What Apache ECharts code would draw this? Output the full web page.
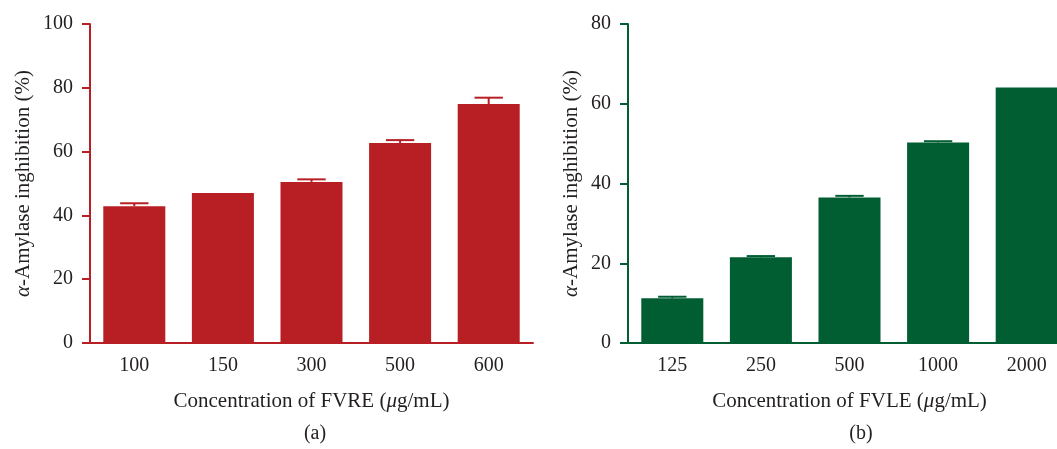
<!DOCTYPE html>
<html lang="en">
<head>
    <meta charset="UTF-8">
    <title>amylase</title>
    <script src="https://cdn.jsdelivr.net/npm/echarts@6/dist/echarts.min.js"></script>
    <style>
        html, body { margin: 0; padding: 0; background: #fff; overflow: hidden; }
    </style>
</head>
<body>
<div id="chart" style="width: 1080px;height: 449px"></div>
<script>
    // (a) FVRE
    var catsA = ['100', '150', '300', '500', '600'];
    var valsA = [42.9, 47.0, 50.5, 62.7, 74.9];
    var errA = [0.9, 0, 0.8, 0.9, 2.0];
    // (b) FVLE
    var catsB = ['125', '250', '500', '1000', '2000'];
    var valsB = [11.2, 21.5, 36.5, 50.3, 64.1];
    var errB = [0.4, 0.3, 0.4, 0.3, 0];

    var red = '#b81f24';
    var green = '#005e32';
    var txt = '#231f20';
    var font = 'Liberation Serif';

    function errSeries(idx, vals, errs, color) {
        var d = [];
        for (var i = 0; i < vals.length; i++) d.push([i, vals[i], errs[i]]);
        return {
            type: 'custom',
            xAxisIndex: idx,
            yAxisIndex: idx,
            silent: true,
            z: 5,
            data: d,
            renderItem: function (params, api) {
                var e = api.value(2);
                if (!e) return;
                var lo = api.coord([api.value(0), api.value(1)]);
                var hi = api.coord([api.value(0), api.value(1) + e]);
                var hw = api.size([1, 0])[0] * 0.16;
                var st = { stroke: color, lineWidth: 2 };
                return {
                    type: 'group',
                    children: [
                        { type: 'line', shape: { x1: lo[0], y1: lo[1], x2: hi[0], y2: hi[1] }, style: st },
                        { type: 'line', shape: { x1: hi[0] - hw, y1: hi[1], x2: hi[0] + hw, y2: hi[1] }, style: st }
                    ]
                };
            }
        };
    }

    function xAx(idx, cats, color, name) {
        return {
            type: 'category',
            gridIndex: idx,
            data: cats,
            axisLine: { lineStyle: { color: color, width: 2 } },
            axisTick: { length: 7, alignWithLabel: true, lineStyle: { color: color, width: 2 } },
            axisLabel: { color: txt, fontFamily: font, fontSize: 20, margin: 13 },
            name: name,
            nameLocation: 'middle',
            nameGap: 48,
            nameTextStyle: { color: txt, fontFamily: font, fontSize: 21,
                rich: { i: { fontStyle: 'italic', fontFamily: font, fontSize: 21, color: txt } } }
        };
    }

    function yAx(idx, max, color, gap) {
        return {
            type: 'value',
            gridIndex: idx,
            min: 0,
            max: max,
            interval: 20,
            splitLine: { show: false },
            axisLine: { show: true, lineStyle: { color: color, width: 2 } },
            axisTick: { show: true, length: 8, lineStyle: { color: color, width: 2 } },
            axisLabel: { color: txt, fontFamily: font, fontSize: 20, margin: 17 },
            name: '{i|α}-Amylase inghibition (%)',
            nameLocation: 'middle',
            nameGap: gap,
            nameTextStyle: { color: txt, fontFamily: font, fontSize: 21,
                rich: { i: { fontStyle: 'italic', fontFamily: font, fontSize: 21, color: txt } } }
        };
    }

    var chart = echarts.init(document.getElementById('chart'));
    chart.setOption({
        animation: false,
        grid: [
            { left: 90, top: 24, width: 443, height: 319 },
            { left: 628, top: 24, width: 443, height: 319 }
        ],
        xAxis: [
            xAx(0, catsA, red, 'Concentration of FVRE ({i|μ}g/mL)'),
            xAx(1, catsB, green, 'Concentration of FVLE ({i|μ}g/mL)')
        ],
        yAxis: [
            yAx(0, 100, red, 56),
            yAx(1, 80, green, 46)
        ],
        graphic: [
            { type: 'text', x: 315, y: 434, style: { text: '(a)', font: '20px "Liberation Serif"', fill: txt, align: 'center', verticalAlign: 'middle' } },
            { type: 'text', x: 861, y: 434, style: { text: '(b)', font: '20px "Liberation Serif"', fill: txt, align: 'center', verticalAlign: 'middle' } }
        ],
        series: [
            { type: 'bar', xAxisIndex: 0, yAxisIndex: 0, data: valsA, barWidth: '70%', itemStyle: { color: red } },
            { type: 'bar', xAxisIndex: 1, yAxisIndex: 1, data: valsB, barWidth: '70%', itemStyle: { color: green } },
            errSeries(0, valsA, errA, red),
            errSeries(1, valsB, errB, green)
        ]
    });
</script>
</body>
</html>
